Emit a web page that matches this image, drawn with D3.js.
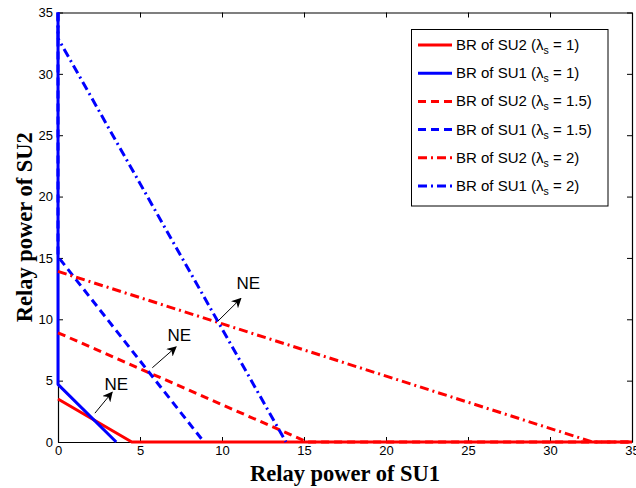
<!DOCTYPE html>
<html>
<head>
<meta charset="utf-8">
<script src="https://cdn.jsdelivr.net/npm/d3@7"></script>
<style>
  html, body { margin: 0; padding: 0; background: #fff; }
  svg { display: block; }
</style>
</head>
<body>
<svg id="chart" width="636" height="488"></svg>
<script>
// Best-response curves: relay power of SU1 (x) vs relay power of SU2 (y)
const su2_l1_x = [0, 4.5, 35];
const su2_l1_y = [3.5, 0, 0];
const su1_l1_x = [0, 0, 3.55];
const su1_l1_y = [35, 4.7, 0];
const su2_l15_x = [0, 15.2, 35];
const su2_l15_y = [8.9, 0, 0];
const su1_l15_x = [0, 0, 8.9];
const su1_l15_y = [35, 15.1, 0];
const su2_l2_x = [0, 32.6, 35];
const su2_l2_y = [13.9, 0, 0];
const su1_l2_x = [0, 0, 13.9];
const su1_l2_y = [35, 32.9, 0];

const seriesNames = ["SU2", "SU1", "SU2", "SU1", "SU2", "SU1"];
const lambdaValues = ["1", "1", "1.5", "1.5", "2", "2"];

const xTicks = [0, 5, 10, 15, 20, 25, 30, 35];
const yTicks = [0, 5, 10, 15, 20, 25, 30, 35];

// Nash equilibrium annotations: label position and arrow from/to (data units)
const neLabelX = [3.55, 7.4, 11.6];
const neLabelY = [4.2, 8.25, 12.45];
const neArrowX0 = [2.25, 5.75, 9.75];
const neArrowY0 = [2.35, 6.05, 9.85];
const neArrowX1 = [3.3, 7.2, 11.15];
const neArrowY1 = [4.05, 7.75, 11.7];

const margin = { left: 58, right: 4, top: 12.5, bottom: 46 };
const W = 636, H = 488;
const svg = d3.select("#chart");

const x = d3.scaleLinear().domain([0, 35]).range([margin.left, W - margin.right]);
const y = d3.scaleLinear().domain([0, 35]).range([H - margin.bottom, margin.top]);

const RED = "#ff0000", BLUE = "#0000ff";
const styles = [
  { color: RED, dash: null },
  { color: BLUE, dash: null },
  { color: RED, dash: "8,5" },
  { color: BLUE, dash: "8,5" },
  { color: RED, dash: "9,4,2,4" },
  { color: BLUE, dash: "9,4,2,4" }
];
const curves = [
  [su2_l1_x, su2_l1_y],
  [su1_l1_x, su1_l1_y],
  [su2_l15_x, su2_l15_y],
  [su1_l15_x, su1_l15_y],
  [su2_l2_x, su2_l2_y],
  [su1_l2_x, su1_l2_y]
];

// axes box with inward ticks on all four sides
const axisFont = "'Liberation Sans', Arial, sans-serif";
const gBottom = svg.append("g").attr("transform", `translate(0,${y(0)})`)
  .call(d3.axisBottom(x).tickValues(xTicks).tickSizeInner(-5).tickSizeOuter(0).tickPadding(4));
const gLeft = svg.append("g").attr("transform", `translate(${x(0)},0)`)
  .call(d3.axisLeft(y).tickValues(yTicks).tickSizeInner(-5).tickSizeOuter(0).tickPadding(5));
const gTop = svg.append("g").attr("transform", `translate(0,${y(35)})`)
  .call(d3.axisTop(x).tickValues(xTicks).tickSizeInner(-5).tickSizeOuter(0).tickFormat(""));
const gRight = svg.append("g").attr("transform", `translate(${x(35)},0)`)
  .call(d3.axisRight(y).tickValues(yTicks).tickSizeInner(-5).tickSizeOuter(0).tickFormat(""));
[gBottom, gLeft, gTop, gRight].forEach(g => {
  g.select(".domain").attr("stroke", "#000").attr("stroke-width", 1.2);
  g.selectAll(".tick line").attr("stroke", "#000").attr("stroke-width", 1);
  g.selectAll(".tick text").attr("font-family", axisFont).attr("font-size", 13).attr("fill", "#000");
});

// curves
const line = d3.line().x(d => x(d[0])).y(d => y(d[1]));
curves.forEach((c, i) => {
  const pts = c[0].map((v, k) => [v, c[1][k]]);
  svg.append("path")
    .attr("d", line(pts))
    .attr("fill", "none")
    .attr("stroke", styles[i].color)
    .attr("stroke-width", 3)
    .attr("stroke-dasharray", styles[i].dash)
    .attr("stroke-linejoin", "round");
});

// arrowhead marker
svg.append("defs").append("marker")
  .attr("id", "arrowhead")
  .attr("viewBox", "0 0 10 10")
  .attr("refX", 9).attr("refY", 5)
  .attr("markerWidth", 10).attr("markerHeight", 10)
  .attr("markerUnits", "userSpaceOnUse")
  .attr("orient", "auto")
  .append("path").attr("d", "M0,0 L10,5 L0,10 L3,5 Z").attr("fill", "#000");

neLabelX.forEach((lx, i) => {
  svg.append("line")
    .attr("x1", x(neArrowX0[i])).attr("y1", y(neArrowY0[i]))
    .attr("x2", x(neArrowX1[i])).attr("y2", y(neArrowY1[i]))
    .attr("stroke", "#000").attr("stroke-width", 1)
    .attr("marker-end", "url(#arrowhead)");
  svg.append("text")
    .attr("x", x(lx)).attr("y", y(neLabelY[i]))
    .attr("text-anchor", "middle")
    .attr("font-family", axisFont).attr("font-size", 17)
    .text("NE");
});

// axis titles
const titleFont = "'Liberation Serif', 'Times New Roman', serif";
svg.append("text")
  .attr("x", (x(0) + x(35)) / 2).attr("y", 481)
  .attr("text-anchor", "middle")
  .attr("font-family", titleFont).attr("font-weight", "bold").attr("font-size", 22.5)
  .text("Relay power of SU1");
svg.append("text")
  .attr("transform", `translate(32,${(y(0) + y(35)) / 2}) rotate(-90)`)
  .attr("text-anchor", "middle")
  .attr("font-family", titleFont).attr("font-weight", "bold").attr("font-size", 22.5)
  .text("Relay power of SU2");

// legend
const lg = svg.append("g");
const lgX = 411.5, lgY = 29.5, lgW = 196.5, lgH = 176.5;
lg.append("rect")
  .attr("x", lgX).attr("y", lgY).attr("width", lgW).attr("height", lgH)
  .attr("fill", "#fff").attr("stroke", "#000").attr("stroke-width", 1);
seriesNames.forEach((name, i) => {
  const cy = 45 + i * 28.2;
  lg.append("line")
    .attr("x1", 418).attr("x2", 452).attr("y1", cy).attr("y2", cy)
    .attr("stroke", styles[i].color).attr("stroke-width", 3)
    .attr("stroke-dasharray", styles[i].dash);
  const t = lg.append("text")
    .attr("x", 456).attr("y", cy + 5)
    .attr("font-family", axisFont).attr("font-size", 15).attr("fill", "#000");
  t.append("tspan").text(`BR of ${name} (\u03bb`);
  t.append("tspan").attr("font-size", 10.5).attr("dy", 4).text("s");
  t.append("tspan").attr("dy", -4).text(` = ${lambdaValues[i]})`);
});
</script>
</body>
</html>
